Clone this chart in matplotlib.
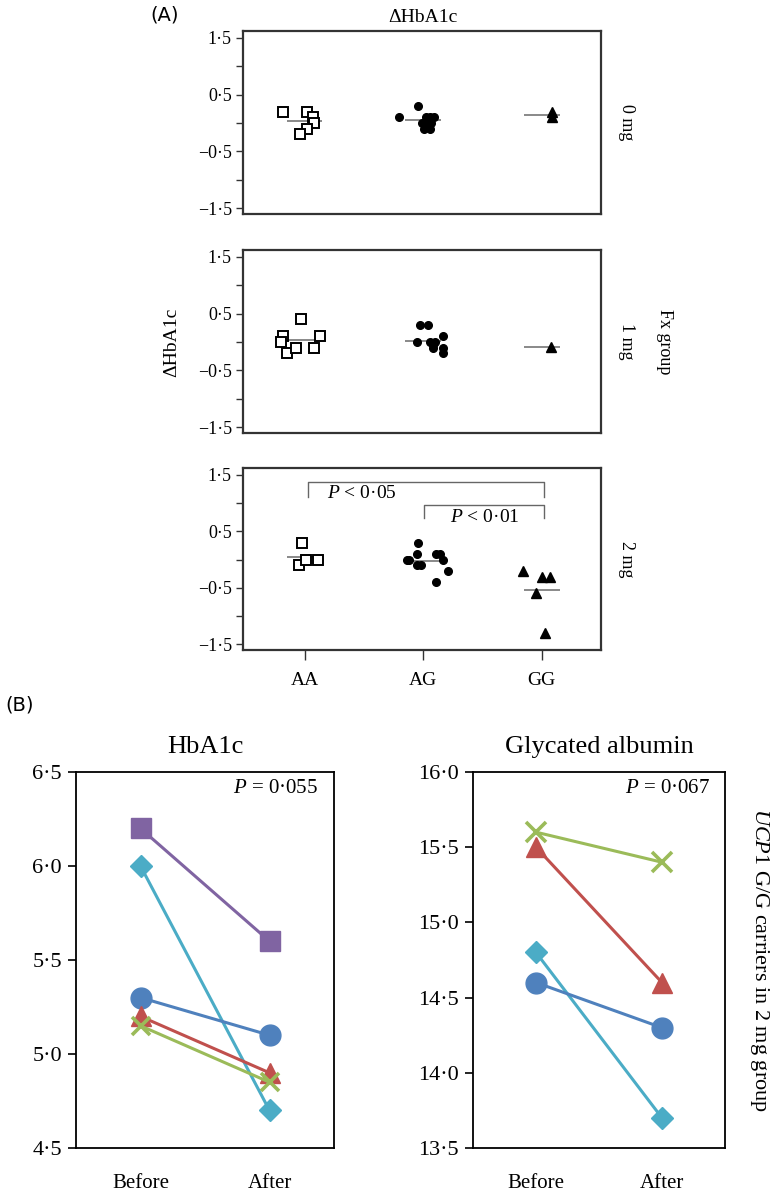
import matplotlib.pyplot as plt
import numpy as np

plt.rcParams['font.family'] = ['Liberation Serif', 'DejaVu Serif']
plt.rcParams['mathtext.fontset'] = 'custom'
plt.rcParams['mathtext.rm'] = 'Liberation Serif'
plt.rcParams['mathtext.it'] = 'Liberation Serif:italic'

# ---- panel A data: delta HbA1c by genotype and dose ----
genotypes = ['AA', 'AG', 'GG']
doses = ['0 mg', '1 mg', '2 mg']

aa_0 = [0.2, 0.2, 0.1, 0.0, -0.1, -0.2]
ag_0 = [0.1, 0.3, 0.0, 0.1, 0.1, 0.1, 0.0, -0.1, -0.1, 0.0]
gg_0 = [0.2, 0.1]
aa_1 = [0.4, 0.1, 0.0, -0.2, -0.1, -0.1, 0.1]
ag_1 = [0.3, 0.3, 0.0, 0.0, -0.05, -0.1, 0.1, -0.1, -0.2, 0.0]
gg_1 = [-0.08]
aa_2 = [0.3, -0.1, 0.0, 0.0]
ag_2 = [0.3, 0.0, 0.0, 0.1, -0.1, -0.1, 0.1, 0.1, 0.0, -0.2, -0.4]
gg_2 = [-0.2, -0.3, -0.3, -0.6, -1.3]

# horizontal jitter of the dots
aa_0_dx = [-0.18, 0.02, 0.07, 0.08, 0.02, -0.04]
ag_0_dx = [-0.2, -0.04, -0.01, 0.02, 0.06, 0.09, 0.03, 0.01, 0.06, 0.07]
gg_0_dx = [0.09, 0.09]
aa_1_dx = [-0.03, -0.18, -0.2, -0.15, -0.07, 0.08, 0.13]
ag_1_dx = [-0.03, 0.04, -0.05, 0.06, 0.08, 0.08, 0.17, 0.17, 0.17, 0.1]
gg_1_dx = [0.08]
aa_2_dx = [-0.02, -0.05, 0.01, 0.11]
ag_2_dx = [-0.04, -0.14, -0.12, -0.05, -0.05, -0.02, 0.11, 0.14, 0.17, 0.21, 0.11]
gg_2_dx = [-0.16, 0.0, 0.07, -0.05, 0.03]

panel_a = [
    [(aa_0, aa_0_dx), (ag_0, ag_0_dx), (gg_0, gg_0_dx)],
    [(aa_1, aa_1_dx), (ag_1, ag_1_dx), (gg_1, gg_1_dx)],
    [(aa_2, aa_2_dx), (ag_2, ag_2_dx), (gg_2, gg_2_dx)],
]

# ---- panel B data: UCP1 G/G carriers in 2 mg group ----
times = ['Before', 'After']
hba1c_purple = [6.2, 5.6]
hba1c_cyan = [6.0, 4.7]
hba1c_blue = [5.3, 5.1]
hba1c_red = [5.2, 4.9]
hba1c_green = [5.15, 4.85]
ga_green = [15.6, 15.4]
ga_red = [15.5, 14.6]
ga_cyan = [14.8, 13.7]
ga_blue = [14.6, 14.3]

W, H = 779, 1197
fig = plt.figure(figsize=(W / 100, H / 100), dpi=100)


def box(x0, y0, x1, y1):
    return [x0 / W, 1 - y1 / H, (x1 - x0) / W, (y1 - y0) / H]


def lab(v):
    return ('%.1f' % v).replace('.', '\u00b7').replace('-', '\u2212')


spine_col = '#333333'
a_boxes = [(243, 31, 601, 214), (243, 250, 601, 433), (243, 468, 601, 650)]
styles = [dict(marker='s', ms=6.5, mfc='white', mec='black', mew=1.4),
          dict(marker='o', ms=5.5, mfc='black', mec='black'),
          dict(marker='^', ms=6.5, mfc='black', mec='black')]
yt = np.arange(-1.5, 1.51, 0.5)

for i, b in enumerate(a_boxes):
    ax = fig.add_axes(box(*b))
    for j, (vals, dx) in enumerate(panel_a[i]):
        xs = np.array(dx) + j + 1
        ax.plot(xs, vals, ls='none', **styles[j], zorder=3)
        ax.hlines(np.mean(vals), j + 1 - 0.15, j + 1 + 0.15, color='#808080', lw=1.3, zorder=2)
    ax.set_xlim(0.48, 3.5)
    ax.set_ylim(-1.6, 1.62)
    ax.set_yticks(yt)
    ax.set_yticklabels([lab(v) if k % 2 == 0 else '' for k, v in enumerate(yt)], fontsize=13)
    ax.tick_params(axis='y', length=5, width=1, color=spine_col, pad=3)
    if i == 2:
        ax.set_xticks([1, 2, 3])
        ax.set_xticklabels(genotypes, fontsize=14)
        ax.tick_params(axis='x', length=7, width=1, color=spine_col, pad=9)
    else:
        ax.set_xticks([])
    for s in ax.spines.values():
        s.set_linewidth(1.6)
        s.set_color(spine_col)
    ax.text(1.07, 0.5, doses[i], transform=ax.transAxes, rotation=270,
            ha='center', va='center', fontsize=13)
    if i == 2:
        # significance brackets
        ax.plot([1.03, 1.03, 3.02, 3.02], [1.11, 1.37, 1.37, 1.11], color='#666666', lw=1)
        ax.plot([2.01, 2.01, 3.02, 3.02], [0.74, 0.96, 0.96, 0.74], color='#666666', lw=1)
        ax.text(1.19, 1.16, '$P$ < 0\u00b705', fontsize=14, va='center')
        ax.text(2.23, 0.75, '$P$ < 0\u00b701', fontsize=14, va='center')

fig.text(423 / W, 1 - 17 / H, '\u0394HbA1c', ha='center', va='center', fontsize=14)
fig.text(172 / W, 1 - 342 / H, '\u0394HbA1c', ha='center', va='center', fontsize=14, rotation=90)
fig.text(665 / W, 1 - 342 / H, 'Fx group', ha='center', va='center', fontsize=13, rotation=270)
fig.text(165 / W, 1 - 15 / H, '(A)', ha='center', va='center', fontsize=14, family='DejaVu Sans')

# ---- panel B ----
fig.text(20 / W, 1 - 705 / H, '(B)', ha='center', va='center', fontsize=14, family='DejaVu Sans')

purple, cyan, blue, red, green = '#8064A2', '#4BACC6', '#4F81BD', '#C0504D', '#9BBB59'
xb = [0, 1]


def style_b(ax, lo, hi, title, ptxt):
    ax.set_xlim(-0.5, 1.5)
    ax.set_ylim(lo, hi)
    yt = np.arange(lo, hi + 0.01, 0.5)
    ax.set_yticks(yt)
    ax.set_yticklabels([lab(v) for v in yt], fontsize=16)
    ax.set_xticks(xb)
    ax.set_xticklabels(times, fontsize=15)
    ax.tick_params(axis='x', length=0, pad=19)
    ax.tick_params(axis='y', length=6, width=1.2, pad=4)
    for s in ax.spines.values():
        s.set_linewidth(1.3)
        s.set_color('black')
    ax.set_title(title, fontsize=19, pad=14)
    ax.text(0.94, 0.957, ptxt, transform=ax.transAxes, ha='right', va='center', fontsize=15)


ax = fig.add_axes(box(76, 772, 334, 1148))
lw = 2.2
ax.plot(xb, hba1c_purple, color=purple, lw=lw, marker='s', ms=15)
ax.plot(xb, hba1c_cyan, color=cyan, lw=lw, marker='D', ms=11)
ax.plot(xb, hba1c_blue, color=blue, lw=lw, marker='o', ms=15)
ax.plot(xb, hba1c_red, color=red, lw=lw, marker='^', ms=14)
ax.plot(xb, hba1c_green, color=green, lw=lw, marker='x', ms=13, mew=2.6)
style_b(ax, 4.5, 6.5, 'HbA1c', '$P$ = 0\u00b7055')

ax = fig.add_axes(box(473, 772, 725, 1148))
ax.plot(xb, ga_green, color=green, lw=lw, marker='x', ms=14, mew=2.6)
ax.plot(xb, ga_red, color=red, lw=lw, marker='^', ms=15)
ax.plot(xb, ga_cyan, color=cyan, lw=lw, marker='D', ms=11)
ax.plot(xb, ga_blue, color=blue, lw=lw, marker='o', ms=15)
style_b(ax, 13.5, 16.0, 'Glycated albumin', '$P$ = 0\u00b7067')

fig.text(760 / W, 1 - 960 / H, r'$\mathit{UCP1}$ G/G carriers in 2 mg group',
         ha='center', va='center', fontsize=16, rotation=270)

fig.savefig('out.png', dpi=100)
